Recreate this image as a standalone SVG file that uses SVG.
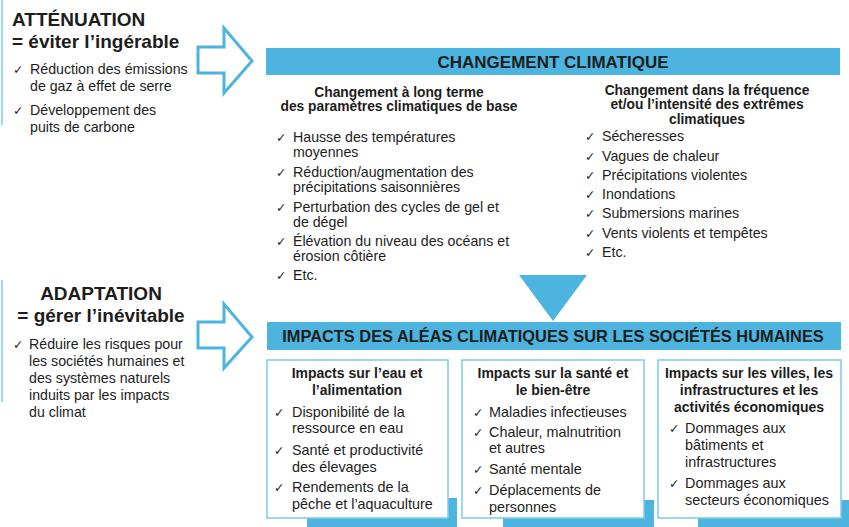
<svg xmlns="http://www.w3.org/2000/svg" width="849" height="527" viewBox="0 0 849 527">
<style>
text{font-family:"Liberation Sans",Arial,sans-serif;fill:#1d1d1b}
.h1{font-size:19px;font-weight:bold}
.bar{font-size:17px;font-weight:bold;text-anchor:middle}
.bar2{font-size:16.4px;font-weight:bold;text-anchor:middle}
.hd{font-size:13.8px;font-weight:bold;text-anchor:middle}
.it{font-size:14.2px}
.bx{font-size:14.4px}
.bh{font-size:14px;font-weight:bold;text-anchor:middle}
.ck{font-family:"DejaVu Sans",sans-serif;font-size:12.5px}
.blue{fill:#4cb4df}
.arrow{fill:#fff;stroke:#4cb4df;stroke-width:3;stroke-linejoin:miter}
.box{fill:#fff;stroke:#7ccaec;stroke-width:1.5}
.vline{stroke:#7ccaec;stroke-width:1.5}
</style>

<g id="attenuation">
<line class="vline" x1="2" y1="0" x2="2" y2="125"/>
<text class="h1" x="12" y="26">ATTÉNUATION</text>
<text class="h1" x="12" y="48">= éviter l’ingérable</text>
<text class="ck" x="13" y="74">✓</text>
<text class="it" x="30" y="74">Réduction des émissions</text>
<text class="it" x="30" y="91">de gaz à effet de serre</text>
<text class="ck" x="13" y="115">✓</text>
<text class="it" x="30" y="115">Développement des</text>
<text class="it" x="30" y="132">puits de carbone</text>
</g>

<g id="adaptation">
<line class="vline" x1="2" y1="280" x2="2" y2="402"/>
<text class="h1" x="101" y="300" text-anchor="middle">ADAPTATION</text>
<text class="h1" x="101" y="322" text-anchor="middle">= gérer l’inévitable</text>
<text class="ck" x="13" y="349">✓</text>
<text class="it" x="29" y="349">Réduire les risques pour</text>
<text class="it" x="29" y="366">les sociétés humaines et</text>
<text class="it" x="29" y="383">des systèmes naturels</text>
<text class="it" x="29" y="400">induits par les impacts</text>
<text class="it" x="29" y="417">du climat</text>
</g>

<g id="connectors">
<polygon class="arrow" points="198,47 224,47 224,28 252,61 224,93 224,73 198,73"/>
<polygon class="arrow" points="198,322 224,322 224,304 252,337 224,368 224,348 198,348"/>
<polygon class="blue" points="519,275 587,275 553,321"/>
</g>

<g id="changement">
<rect class="blue" x="266" y="48" width="574" height="27"/>
<text class="bar" x="553" y="68">CHANGEMENT CLIMATIQUE</text>
</g>

<g id="long-terme">
<text class="hd" x="399" y="97">Changement à long terme</text>
<text class="hd" x="399" y="111">des paramètres climatiques de base</text>
<text class="ck" x="276" y="142">✓</text>
<text class="it" x="293" y="142">Hausse des températures</text>
<text class="it" x="293" y="157">moyennes</text>
<text class="ck" x="276" y="177">✓</text>
<text class="it" x="293" y="177">Réduction/augmentation des</text>
<text class="it" x="293" y="192">précipitations saisonnières</text>
<text class="ck" x="276" y="212">✓</text>
<text class="it" x="293" y="212">Perturbation des cycles de gel et</text>
<text class="it" x="293" y="227">de dégel</text>
<text class="ck" x="276" y="246">✓</text>
<text class="it" x="293" y="246">Élévation du niveau des océans et</text>
<text class="it" x="293" y="261">érosion côtière</text>
<text class="ck" x="276" y="280">✓</text>
<text class="it" x="293" y="280">Etc.</text>
</g>

<g id="extremes">
<text class="hd" x="707" y="95">Changement dans la fréquence</text>
<text class="hd" x="707" y="109">et/ou l’intensité des extrêmes</text>
<text class="hd" x="707" y="124">climatiques</text>
<text class="ck" x="585" y="141">✓</text>
<text class="it" x="602" y="141">Sécheresses</text>
<text class="ck" x="585" y="161">✓</text>
<text class="it" x="602" y="161">Vagues de chaleur</text>
<text class="ck" x="585" y="180">✓</text>
<text class="it" x="602" y="180">Précipitations violentes</text>
<text class="ck" x="585" y="199">✓</text>
<text class="it" x="602" y="199">Inondations</text>
<text class="ck" x="585" y="218">✓</text>
<text class="it" x="602" y="218">Submersions marines</text>
<text class="ck" x="585" y="238">✓</text>
<text class="it" x="602" y="238">Vents violents et tempêtes</text>
<text class="ck" x="585" y="257">✓</text>
<text class="it" x="602" y="257">Etc.</text>
</g>

<g id="impacts">
<rect class="blue" x="267" y="322" width="574" height="28"/>
<text class="bar2" x="553" y="342">IMPACTS DES ALÉAS CLIMATIQUES SUR LES SOCIÉTÉS HUMAINES</text>
</g>

<g id="eau">
<rect class="blue" x="307" y="498" width="150" height="29"/>
<rect class="box" x="267" y="360" width="181" height="158"/>
<text class="bh" x="357" y="378">Impacts sur l’eau et</text>
<text class="bh" x="357" y="395">l’alimentation</text>
<text class="ck" x="274" y="417">✓</text>
<text class="bx" x="292" y="417">Disponibilité de la</text>
<text class="bx" x="292" y="433">ressource en eau</text>
<text class="ck" x="274" y="455">✓</text>
<text class="bx" x="292" y="455">Santé et productivité</text>
<text class="bx" x="292" y="472">des élevages</text>
<text class="ck" x="274" y="492">✓</text>
<text class="bx" x="292" y="492">Rendements de la</text>
<text class="bx" x="292" y="509">pêche et l’aquaculture</text>
</g>

<g id="sante">
<rect class="blue" x="503" y="500" width="151" height="27"/>
<rect class="box" x="462" y="360" width="182" height="158"/>
<text class="bh" x="553" y="378">Impacts sur la santé et</text>
<text class="bh" x="553" y="395">le bien-être</text>
<text class="ck" x="473" y="417">✓</text>
<text class="bx" x="489" y="417">Maladies infectieuses</text>
<text class="ck" x="473" y="437">✓</text>
<text class="bx" x="489" y="437">Chaleur, malnutrition</text>
<text class="bx" x="489" y="453">et autres</text>
<text class="ck" x="473" y="474">✓</text>
<text class="bx" x="489" y="474">Santé mentale</text>
<text class="ck" x="473" y="495">✓</text>
<text class="bx" x="489" y="495">Déplacements de</text>
<text class="bx" x="489" y="512">personnes</text>
</g>

<g id="villes">
<rect class="blue" x="698" y="500" width="151" height="27"/>
<rect class="box" x="658" y="360" width="183" height="158"/>
<text class="bh" x="749" y="378">Impacts sur les villes, les</text>
<text class="bh" x="749" y="395">infrastructures et les</text>
<text class="bh" x="749" y="412">activités économiques</text>
<text class="ck" x="669" y="433">✓</text>
<text class="bx" x="685" y="433">Dommages aux</text>
<text class="bx" x="685" y="450">bâtiments et</text>
<text class="bx" x="685" y="467">infrastructures</text>
<text class="ck" x="669" y="488">✓</text>
<text class="bx" x="685" y="488">Dommages aux</text>
<text class="bx" x="685" y="505">secteurs économiques</text>
</g>
</svg>
